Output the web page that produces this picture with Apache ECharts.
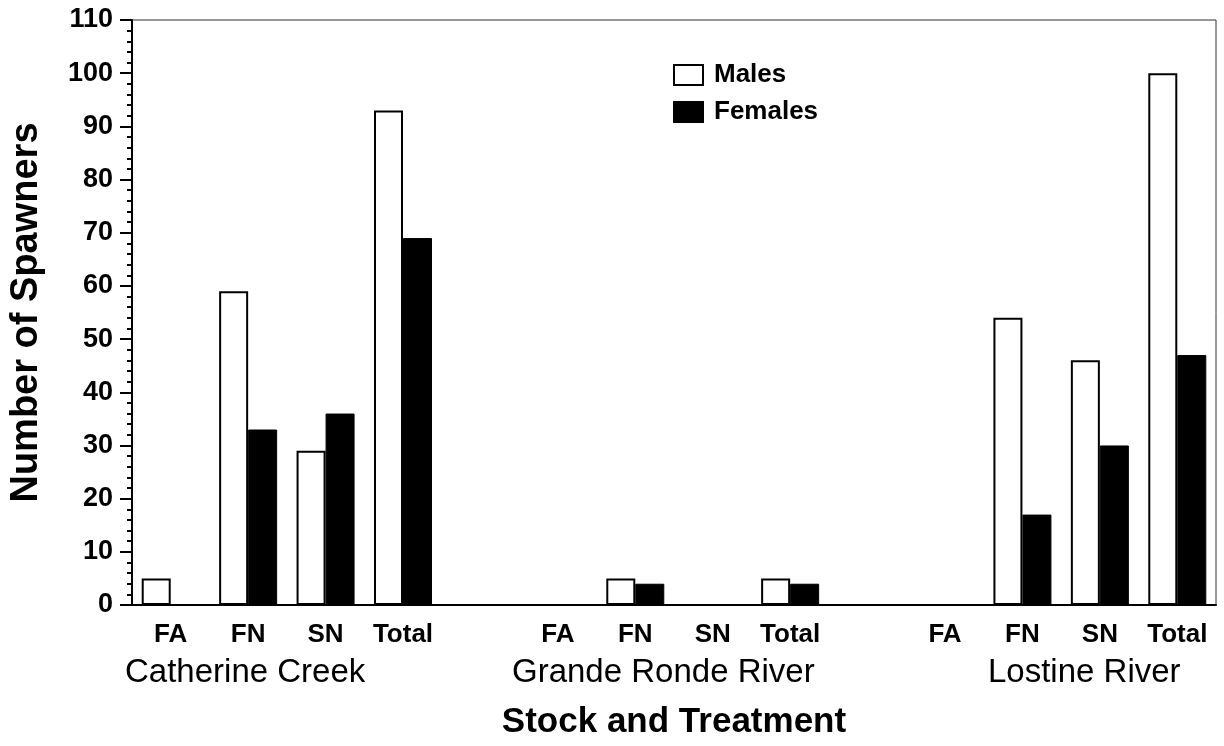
<!DOCTYPE html>
<html>
<head>
<meta charset="utf-8">
<script src="https://cdn.jsdelivr.net/npm/echarts@6/dist/echarts.min.js"></script>
<style>
  html, body { margin: 0; padding: 0; background: #fff; }
  #root { width: 1224px; height: 746px; }
</style>
</head>
<body>
<div id="root"></div>
<script>
// 14 slots: 3 stocks x 4 treatments, with an empty slot between stocks
const treatments = ['FA', 'FN', 'SN', 'Total', '', 'FA', 'FN', 'SN', 'Total', '', 'FA', 'FN', 'SN', 'Total']
const stocks = ['Catherine Creek', 'Grande Ronde River', 'Lostine River']
const males = [5, 59, 29, 93, null, 0, 5, 0, 5, null, 0, 54, 46, 100]
const females = [0, 33, 36, 69, null, 0, 4, 0, 4, null, 0, 17, 30, 47]
const yTicks = [0, 110, 10]

const font = '"Liberation Sans", Arial, sans-serif'

const main = document.getElementById('root')
const myChart = echarts.init(main)

const option = {
  animation: false,
  textStyle: { fontFamily: font, color: '#000' },
  grid: {
    left: 128,
    right: 8,
    top: 20,
    bottom: 141,
    show: true,
    borderColor: '#333',
    borderWidth: 1
  },
  legend: {
    orient: 'vertical',
    left: 668,
    top: 57,
    itemWidth: 29,
    itemHeight: 20,
    itemGap: 11,
    icon: 'rect',
    textStyle: { fontFamily: font, fontSize: 26, fontWeight: 'bold', color: '#000', padding: [0, 0, 0, 6] },
    data: ['Males', 'Females']
  },
  xAxis: {
    type: 'category',
    data: treatments,
    boundaryGap: true,
    name: 'Stock and Treatment',
    nameLocation: 'middle',
    nameGap: 100,
    nameTextStyle: { fontFamily: font, fontSize: 35, fontWeight: 'bold', color: '#000' },
    axisLine: { lineStyle: { color: '#000', width: 2 } },
    axisTick: { show: false },
    axisLabel: { interval: 0, margin: 17, fontFamily: font, fontSize: 26, fontWeight: 'bold', color: '#000' }
  },
  yAxis: {
    type: 'value',
    min: yTicks[0],
    max: yTicks[1],
    interval: yTicks[2],
    name: 'Number of Spawners',
    nameLocation: 'middle',
    nameGap: 86,
    nameTextStyle: { fontFamily: font, fontSize: 38, fontWeight: 'bold', color: '#000' },
    axisLine: { show: true, lineStyle: { color: '#000', width: 2 } },
    axisTick: { show: true, length: 12, lineStyle: { color: '#000', width: 2 } },
    minorTick: { show: true, splitNumber: 5, length: 5, lineStyle: { color: '#000', width: 2 } },
    splitLine: { show: false },
    axisLabel: { margin: 19, fontFamily: font, fontSize: 27, fontWeight: 'bold', color: '#000' }
  },
  graphic: stocks.map((s, i) => ({
    type: 'text',
    left: [125, 512, 988][i],
    top: 656,
    style: { text: s, font: `33px ${font}`, fill: '#000' }
  })),
  series: [
    {
      name: 'Males',
      type: 'bar',
      data: males,
      barWidth: 29,
      barGap: '0%',
      itemStyle: { color: '#fff', borderColor: '#000', borderWidth: 2 }
    },
    {
      name: 'Females',
      type: 'bar',
      data: females,
      barWidth: 29,
      barGap: '0%',
      itemStyle: { color: '#000', borderColor: '#000', borderWidth: 1 }
    }
  ]
}

myChart.setOption(option)
</script>
</body>
</html>
